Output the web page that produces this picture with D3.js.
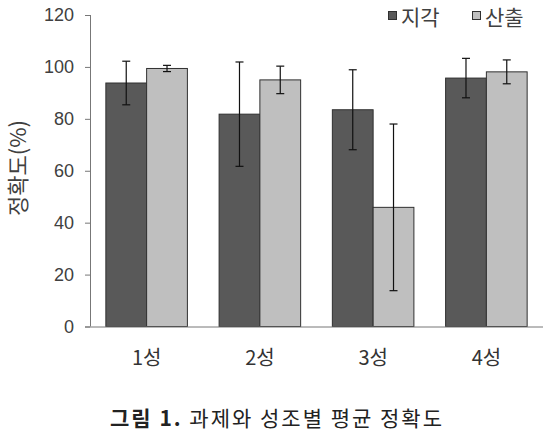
<!DOCTYPE html>
<html>
<head>
	<meta charset="utf-8">
	<title>정확도</title>
	<script src="https://cdn.jsdelivr.net/npm/d3@7/dist/d3.min.js"></script>
	<style>
		body { margin: 0; background: #fff; }
	</style>
</head>
<body>
	<script>

	var categories = ["1성", "2성", "3성", "4성"];
	var seriesNames = ["지각", "산출"];
	var perception = [93.8, 81.8, 83.5, 95.7];    // 지각 평균
	var perceptionErr = [8.4, 20.1, 15.4, 7.6];
	var production = [99.4, 95.0, 45.9, 98.1];    // 산출 평균
	var productionErr = [1.2, 5.3, 32.1, 4.6];
	var yTicks = [0, 20, 40, 60, 80, 100, 120];

	var colors = ["#595959", "#bfbfbf"];

	var width = 547;
	var height = 431;

	var svg = d3.select("body")
		.append("svg")
		.attr("width", width)
		.attr("height", height);

	// 막대 데이터 만들기
	var rows = [];
	categories.forEach(function(c, i) {
		rows.push({cat: c, key: seriesNames[0], v: perception[i], e: perceptionErr[i]});
		rows.push({cat: c, key: seriesNames[1], v: production[i], e: productionErr[i]});
	});

	var x0 = d3.scaleBand()
		.domain(categories)
		.range([90, 543])
		.paddingInner(0.28)
		.paddingOuter(0.14);

	var x1 = d3.scaleBand()
		.domain(seriesNames)
		.range([0, x0.bandwidth()]);

	var color = d3.scaleOrdinal()
		.domain(seriesNames)
		.range(colors);

	var y = d3.scaleLinear()
		.domain([0, 120])
		.range([326.5, 15]);

	// y축
	var yAxis = d3.axisLeft(y)
		.tickValues(yTicks)
		.tickSize(5)
		.tickPadding(11);
	var gy = svg.append("g")
		.attr("transform", "translate(90,0)")
		.call(yAxis);
	gy.select(".domain").attr("stroke", "#777").attr("d", "M0.5," + y(120) + "V" + y(0));
	gy.selectAll(".tick line").attr("stroke", "#777");
	gy.selectAll(".tick text")
		.attr("fill", "#404040")
		.style("font-family", "'Liberation Sans', Arial, sans-serif")
		.style("font-size", "18px");

	// 막대
	svg.append("g").selectAll("rect")
		.data(rows)
		.enter()
		.append("rect")
		.attr("x", function(d) { return x0(d.cat) + x1(d.key); })
		.attr("y", function(d) { return y(d.v); })
		.attr("width", x1.bandwidth())
		.attr("height", function(d) { return y(0) - y(d.v); })
		.attr("fill", function(d) { return color(d.key); })
		.attr("stroke", "#303030")
		.attr("stroke-width", 1);

	// x축
	var xAxis = d3.axisBottom(x0).tickSize(0).tickPadding(24);
	var gx = svg.append("g")
		.attr("transform", "translate(0," + y(0) + ")")
		.call(xAxis);
	gx.select(".domain").attr("stroke", "#777").attr("d", "M85,0.5H543");
	gx.selectAll(".tick text")
		.attr("fill", "#333")
		.style("font-family", "'Noto Sans CJK KR', sans-serif")
		.style("font-size", "20px");

	// 오차 막대
	var capW = 4;
	var eb = svg.append("g").selectAll("g")
		.data(rows)
		.enter()
		.append("g")
		.attr("stroke", "#111")
		.attr("stroke-width", 1.2);
	eb.append("line")
		.attr("x1", function(d) { return x0(d.cat) + x1(d.key) + x1.bandwidth() / 2; })
		.attr("x2", function(d) { return x0(d.cat) + x1(d.key) + x1.bandwidth() / 2; })
		.attr("y1", function(d) { return y(d.v + d.e); })
		.attr("y2", function(d) { return y(d.v - d.e); });
	[1, -1].forEach(function(s) {
		eb.append("line")
			.attr("x1", function(d) { return x0(d.cat) + x1(d.key) + x1.bandwidth() / 2 - capW; })
			.attr("x2", function(d) { return x0(d.cat) + x1(d.key) + x1.bandwidth() / 2 + capW; })
			.attr("y1", function(d) { return y(d.v + s * d.e); })
			.attr("y2", function(d) { return y(d.v + s * d.e); });
	});

	// y축 제목
	svg.append("text")
		.attr("transform", "translate(26,168) rotate(-90)")
		.attr("text-anchor", "middle")
		.attr("fill", "#404040")
		.style("font-family", "'Noto Sans CJK KR', sans-serif")
		.style("font-size", "22px")
		.text("정확도(%)");

	// 범례
	var legendX = [388, 472];
	var lg = svg.append("g").selectAll("g")
		.data(seriesNames)
		.enter()
		.append("g")
		.attr("transform", function(d, i) { return "translate(" + legendX[i] + ",0)"; });
	lg.append("rect")
		.attr("x", 0.5)
		.attr("y", 11.5)
		.attr("width", 8)
		.attr("height", 8)
		.attr("fill", function(d) { return color(d); })
		.attr("stroke", "#303030");
	lg.append("text")
		.attr("x", 13)
		.attr("y", 25)
		.attr("fill", "#404040")
		.style("font-family", "'Noto Sans CJK KR', sans-serif")
		.style("font-size", "21px")
		.text(function(d) { return d; });

	// 캡션
	var cap = svg.append("text")
		.attr("x", 277)
		.attr("y", 426)
		.attr("text-anchor", "middle")
		.attr("fill", "#222")
		.style("font-family", "'Noto Sans CJK KR', serif")
		.style("font-size", "21px")
		.style("letter-spacing", "2px");
	cap.append("tspan").attr("font-weight", "bold").text("그림 1.");
	cap.append("tspan").text(" 과제와 성조별 평균 정확도");

	</script>
</body>
</html>
